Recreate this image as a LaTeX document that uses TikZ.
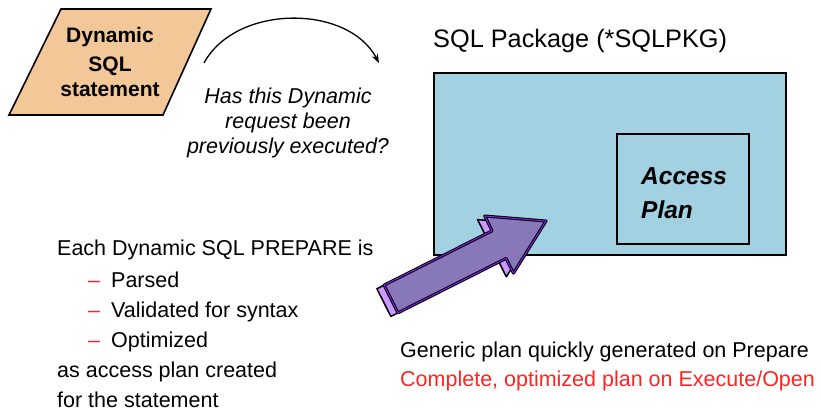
\documentclass[tikz,border=0pt]{standalone}
\usepackage{fontspec}
\setmainfont{Liberation Sans}
\usetikzlibrary{arrows.meta}

\definecolor{peach}{RGB}{242,200,152}
\definecolor{pkgblue}{RGB}{162,210,226}
\definecolor{arrowfill}{RGB}{136,120,186}
\definecolor{arrowface}{RGB}{204,153,255}
\definecolor{arrowedge}{RGB}{128,32,224}
\definecolor{alertred}{RGB}{255,36,36}

\begin{document}
\begin{tikzpicture}[x=1pt,y=-1pt,
  txt/.style={inner sep=0pt, font=\fontsize{21.5}{25}\selectfont},
  boldtxt/.style={inner sep=0pt, font=\fontsize{21}{25}\selectfont\bfseries},
  ittxt/.style={inner sep=0pt, font=\fontsize{21.5}{25}\selectfont\itshape},
  plantxt/.style={inner sep=0pt, font=\fontsize{24.5}{28}\selectfont\bfseries\itshape},
  boxline/.style={draw=black, line width=1.6pt},
]
\useasboundingbox (0,0) rectangle (821,411);

% input statement (parallelogram)
\filldraw[boxline, fill=peach, line join=miter] (61,9) -- (211,9) -- (163,115) -- (9,115) -- cycle;
\node[boldtxt, anchor=base] (dyn1) at (110,42.5) {Dynamic};
\node[boldtxt, anchor=base] (dyn2) at (110,71.5) {SQL};
\node[boldtxt, anchor=base] (dyn3) at (110,97) {statement};

% question and curved arrow
\coordinate (qs) at (204,63);
\coordinate (qe) at (379,63);
\draw[line width=1.3pt, -{Stealth[length=9pt,width=6.5pt]}]
  (qs) .. controls (236,4) and (348,4) .. (qe);
\node[ittxt, anchor=base] (q1) at (288,103.5) {Has this Dynamic};
\node[ittxt, anchor=base] (q2) at (288,128.5) {request been};
\node[ittxt, anchor=base] (q3) at (288,153.5) {previously executed?};

% SQL package with its access plan
\node[inner sep=0pt, font=\fontsize{25.3}{30}\selectfont, anchor=base west] (pkgtitle) at (433,47.5) {SQL Package (*SQLPKG)};
\node[boxline, fill=pkgblue, inner sep=0pt, minimum width=352, minimum height=182, anchor=north west] (pkg) at (433,72) {};
\node[boxline, fill=pkgblue, inner sep=0pt, minimum width=132, minimum height=110, anchor=north west] (plan) at (616,133) {};
\node[plantxt, anchor=base west] (plan1) at (641,185) {Access};
\node[plantxt, anchor=base west] (plan2) at (641,218.5) {Plan};

% block arrow pointing into the package
\begin{scope}[shift={(391,299)}, x={(0.8934pt,0.4496pt)}, y={(0.4496pt,-0.8934pt)}]
  \filldraw[fill=arrowface, draw=black, line width=1.5pt, line join=round]
    (-8,-15.5) -- (113,-15.5) -- (113,-32) -- (165.5,0) -- (113,32) -- (113,15.5) -- (-8,15.5) -- cycle;
  \filldraw[fill=arrowfill, draw=black, line width=3pt, line join=round]
    (0,-15.5) -- (121,-15.5) -- (121,-32) -- (173.5,0) -- (121,32) -- (121,15.5) -- (0,15.5) -- cycle;
  \draw[draw=arrowedge, line width=1pt, line join=round]
    (0,-15.5) -- (121,-15.5) -- (121,-32) -- (173.5,0) -- (121,32) -- (121,15.5) -- (0,15.5) -- cycle;
\end{scope}

% left-hand explanation
\node[txt, anchor=base west] (each) at (57,256) {Each Dynamic SQL PREPARE is};
\node[txt, anchor=base west, text=alertred] (d1) at (88,288) {–};
\node[txt, anchor=base west] (i1) at (111,288) {Parsed};
\node[txt, anchor=base west, text=alertred] (d2) at (88,317.5) {–};
\node[txt, anchor=base west] (i2) at (111,317.5) {Validated for syntax};
\node[txt, anchor=base west, text=alertred] (d3) at (88,347) {–};
\node[txt, anchor=base west] (i3) at (111,347) {Optimized};
\node[txt, anchor=base west] (as1) at (57,377.5) {as access plan created};
\node[txt, anchor=base west] (as2) at (57,407) {for the statement};

% plan generation notes
\node[txt, anchor=base west] (gen) at (400,357) {Generic plan quickly generated on Prepare};
\node[txt, anchor=base west, text=alertred] (full) at (400,386) {Complete, optimized plan on Execute/Open};
\end{tikzpicture}
\end{document}
